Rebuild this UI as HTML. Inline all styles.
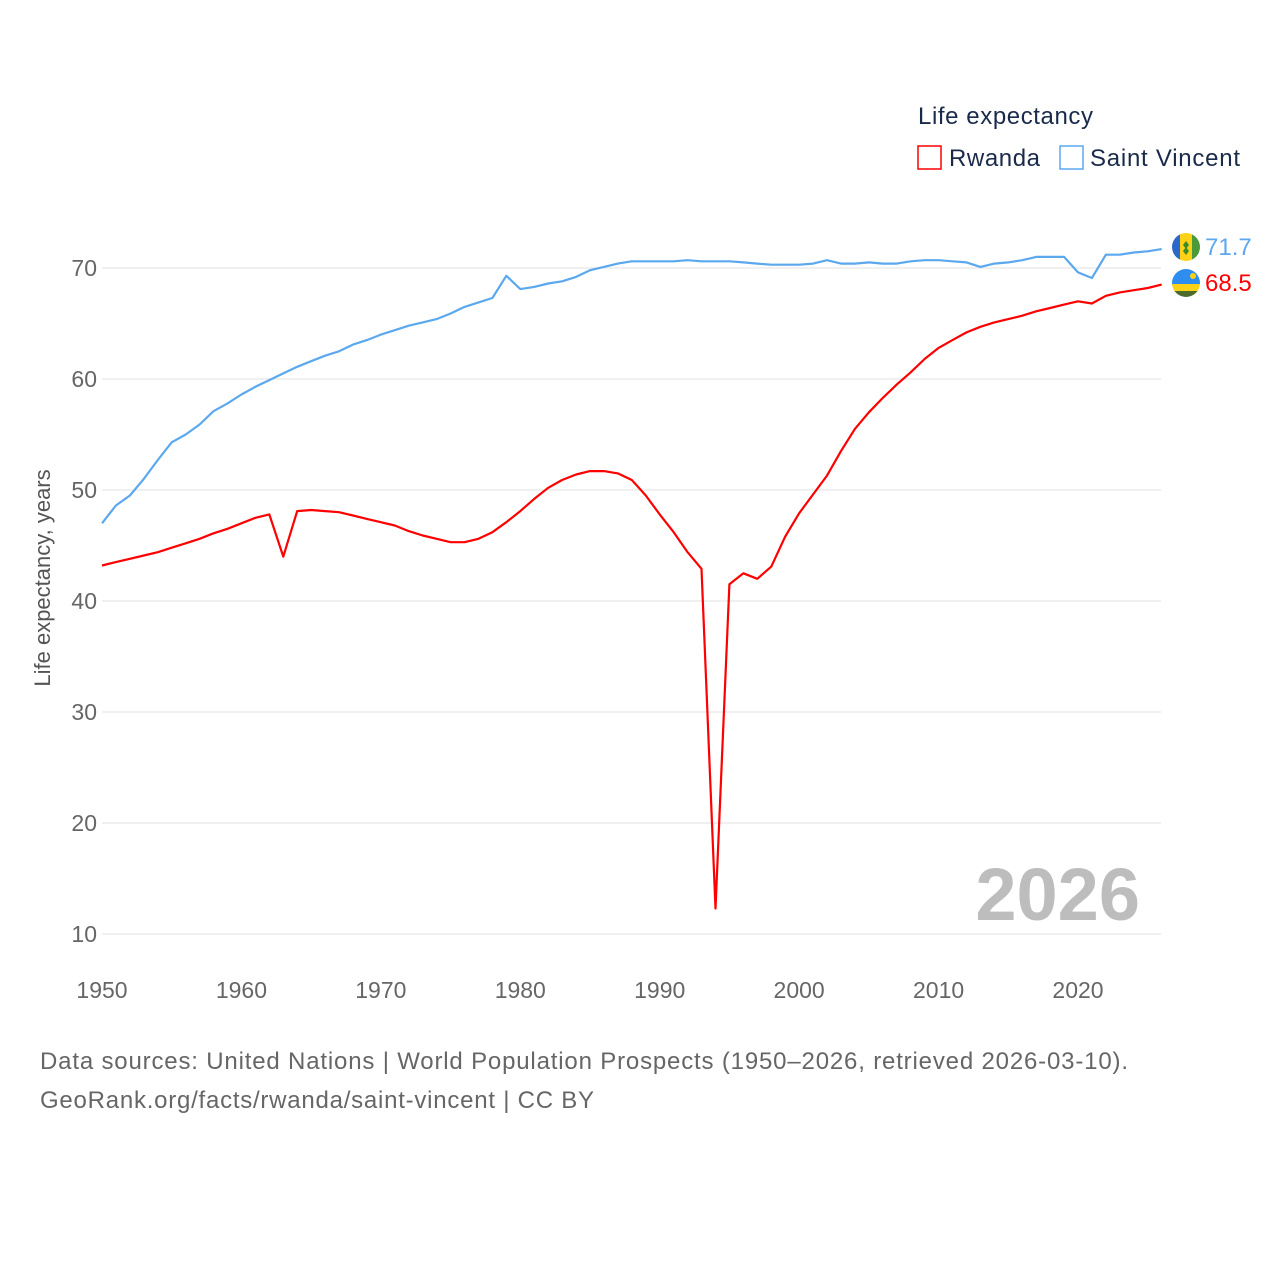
<!DOCTYPE html>
<html><head><meta charset="utf-8"><style>
body{margin:0;background:#fff;}
svg text{font-family:"Liberation Sans",sans-serif;}
</style></head><body>
<svg width="1280" height="1280" viewBox="0 0 1280 1280" xmlns="http://www.w3.org/2000/svg">
<rect width="1280" height="1280" fill="#fff"/>
<g id="grid"></g>
<g id="yticks"></g>
<g id="xticks"></g>
<text x="1140" y="920" text-anchor="end" font-size="74" font-weight="bold" fill="#bdbdbd">2026</text>
<text transform="translate(50,578) rotate(-90)" text-anchor="middle" font-size="22" fill="#555">Life expectancy, years</text>
<g id="lines"></g>
<g>
<text x="918" y="124" font-size="24" fill="#1a2a4a" textLength="175">Life expectancy</text>
<g><rect x="918" y="146" width="23" height="23" fill="none" stroke="#f00" stroke-width="1.5"/><text x="949" y="166" font-size="24" fill="#1a2a4a" textLength="91">Rwanda</text></g>
<g><rect x="1060" y="146" width="23" height="23" fill="none" stroke="#5ba8ee" stroke-width="1.5"/><text x="1090" y="166" font-size="24" fill="#1a2a4a" textLength="150">Saint Vincent</text></g>
</g>
<g>
<clipPath id="c1"><circle cx="1186" cy="247" r="14"/></clipPath>
<g clip-path="url(#c1)"><rect x="1172" y="233" width="8" height="28" fill="#2b68c9"/><rect x="1180" y="233" width="12" height="28" fill="#fcd116"/><rect x="1192" y="233" width="8" height="28" fill="#4a9a3a"/><path d="M1186 241l3 4-3 4-3-4zM1186 247l3 4-3 4-3-4z" fill="#3a8a2a"/></g>
</g>
<g>
<clipPath id="c2"><circle cx="1186" cy="283" r="14"/></clipPath>
<g clip-path="url(#c2)"><rect x="1172" y="269" width="28" height="15" fill="#2d8ef0"/><rect x="1172" y="284" width="28" height="7" fill="#fcd116"/><rect x="1172" y="291" width="28" height="6" fill="#4a6b2a"/><circle cx="1193" cy="276" r="3" fill="#fcd116"/></g>
</g>
<text x="1205" y="255" font-size="24" fill="#5ba8ee">71.7</text>
<text x="1205" y="291" font-size="24" fill="#f00">68.5</text>
<text x="40" y="1069" font-size="24" fill="#666" textLength="1088">Data sources: United Nations | World Population Prospects (1950–2026, retrieved 2026-03-10).</text>
<text x="40" y="1108" font-size="24" fill="#666" textLength="554">GeoRank.org/facts/rwanda/saint-vincent | CC BY</text>
</svg>
<script>
const startYear = 1950;
const rwanda = [43.2,43.5,43.8,44.1,44.4,44.8,45.2,45.6,46.1,46.5,47.0,47.5,47.8,44.0,48.1,48.2,48.1,48.0,47.7,47.4,47.1,46.8,46.3,45.9,45.6,45.3,45.3,45.6,46.2,47.1,48.1,49.2,50.2,50.9,51.4,51.7,51.7,51.5,50.9,49.5,47.8,46.2,44.4,42.9,12.3,41.5,42.5,42.0,43.1,45.8,47.9,49.6,51.3,53.5,55.5,57.0,58.3,59.5,60.6,61.8,62.8,63.5,64.2,64.7,65.1,65.4,65.7,66.1,66.4,66.7,67.0,66.8,67.5,67.8,68.0,68.2,68.5];
const saintVincent = [47.0,48.6,49.5,51.0,52.7,54.3,55.0,55.9,57.1,57.8,58.6,59.3,59.9,60.5,61.1,61.6,62.1,62.5,63.1,63.5,64.0,64.4,64.8,65.1,65.4,65.9,66.5,66.9,67.3,69.3,68.1,68.3,68.6,68.8,69.2,69.8,70.1,70.4,70.6,70.6,70.6,70.6,70.7,70.6,70.6,70.6,70.5,70.4,70.3,70.3,70.3,70.4,70.7,70.4,70.4,70.5,70.4,70.4,70.6,70.7,70.7,70.6,70.5,70.1,70.4,70.5,70.7,71.0,71.0,71.0,69.6,69.1,71.2,71.2,71.4,71.5,71.7];
const yTicks = [10,20,30,40,50,60,70];
const xTicks = [1950,1960,1970,1980,1990,2000,2010,2020];
const NS="http://www.w3.org/2000/svg";
function xs(y){return 102+(y-1950)*(976/70);}
function ys(v){return 268+(70-v)*11.1;}
function mk(tag,attrs,parent){const e=document.createElementNS(NS,tag);for(const k in attrs)e.setAttribute(k,attrs[k]);parent.appendChild(e);return e;}
const grid=document.getElementById('grid'),yt=document.getElementById('yticks'),xt=document.getElementById('xticks'),lines=document.getElementById('lines');
yTicks.forEach(v=>{
 const l=mk('line',{x1:102,x2:1161,y1:ys(v),y2:ys(v),stroke:'#e8e8e8','stroke-width':1.3},grid);
 
 
 const t=mk('text',{x:97,y:ys(v)+8,'text-anchor':'end','font-size':23,fill:'#666'},yt);
 t.textContent=v;
 
 
});
xTicks.forEach(v=>{
 const t=mk('text',{x:xs(v),y:998,'text-anchor':'middle','font-size':23,fill:'#666'},xt);
 t.textContent=v;
 
 
});
function draw(arr,color,name){
 const d=arr.map((v,i)=>(i?'L':'M')+xs(startYear+i).toFixed(1)+' '+ys(v).toFixed(1)).join('');
 const p=mk('path',{d:d,fill:'none',stroke:color,'stroke-width':2.2,'stroke-linejoin':'round'},lines);
 
 
}
draw(saintVincent,'#5ba8ee','line-saint-vincent');
draw(rwanda,'#f00','line-rwanda');
</script>
</body></html>
